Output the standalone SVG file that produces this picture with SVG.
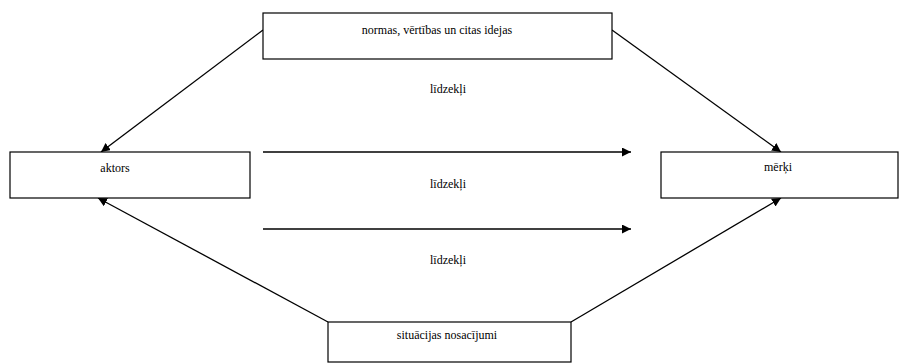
<svg xmlns="http://www.w3.org/2000/svg" width="902" height="363" viewBox="0 0 902 363">
<style>
.box{fill:#fff;stroke:#000;stroke-width:1.2}
.t{font-family:"Liberation Serif","Times New Roman",serif;font-size:12px;fill:#000;text-anchor:middle}
.c{stroke:#000;stroke-width:1.3;fill:none;marker-end:url(#ah)}
</style>
<defs>
<marker id="ah" viewBox="0 0 10 10" refX="10" refY="5" markerWidth="9" markerHeight="9" markerUnits="userSpaceOnUse" orient="auto">
<path d="M0,0 L10,5 L0,10 z" fill="#000"/>
</marker>
</defs>
<rect width="902" height="363" fill="#fff"/>
<g id="connectors">
<line class="c" x1="263" y1="30" x2="101" y2="152"/>
<line class="c" x1="612" y1="30" x2="781" y2="152"/>
<line class="c" x1="328" y1="322" x2="98" y2="198"/>
<line class="c" x1="571" y1="322" x2="781" y2="198"/>
<line class="c" x1="263" y1="152" x2="631" y2="152"/>
<line class="c" x1="263" y1="229" x2="631" y2="229"/>
</g>
<g id="node-top">
<rect class="box" x="263" y="13" width="349" height="46"/>
<text class="t" x="437" y="34">normas, vērtības un citas idejas</text>
</g>
<g id="node-aktors">
<rect class="box" x="10" y="152" width="240" height="46"/>
<text class="t" x="115" y="172">aktors</text>
</g>
<g id="node-merki">
<rect class="box" x="661" y="152" width="237" height="46"/>
<text class="t" x="778" y="171">mērķi</text>
</g>
<g id="node-bottom">
<rect class="box" x="328" y="322" width="243" height="40"/>
<text class="t" x="447" y="339">situācijas nosacījumi</text>
</g>
<g id="labels">
<text class="t" x="448" y="93">līdzekļi</text>
<text class="t" x="448" y="188">līdzekļi</text>
<text class="t" x="448" y="264">līdzekļi</text>
</g>
</svg>
